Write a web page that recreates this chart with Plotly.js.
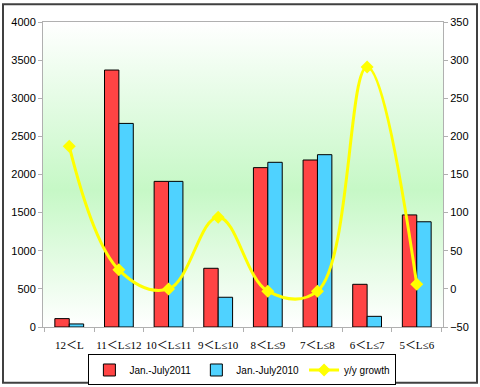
<!DOCTYPE html>
<html><head><meta charset="utf-8">
<script src="https://cdn.plot.ly/plotly-3.0.1.min.js"></script>
<style>html,body{margin:0;padding:0;background:#fff}#c{width:480px;height:387px}</style>
</head><body><div id="c"></div>
<script>
const categories = ["12＜L", "11＜L≤12", "10＜L≤11", "9＜L≤10", "8＜L≤9", "7＜L≤8", "6＜L≤7", "5＜L≤6"];
const sales2011 = [110, 3370, 1910, 770, 2090, 2190, 560, 1470];
const sales2010 = [40, 2670, 1910, 390, 2160, 2260, 140, 1380];
const growth = [187, 25, 0, 94, -3, -3, 291, 6];
const leftTicks = [0, 500, 1000, 1500, 2000, 2500, 3000, 3500, 4000];
const rightTicks = [-50, 0, 50, 100, 150, 200, 250, 300, 350];

const bgSvg = '<svg xmlns="http://www.w3.org/2000/svg" width="100" height="100" preserveAspectRatio="none"><defs><linearGradient id="g" x1="0" y1="0" x2="0" y2="1"><stop offset="0" stop-color="#ffffff"/><stop offset="0.55" stop-color="#c6f8c6"/><stop offset="1" stop-color="#ffffff"/></linearGradient></defs><rect width="100" height="100" fill="url(#g)"/></svg>';
const bgUri = 'data:image/svg+xml;base64,' + btoa(bgSvg);

const traces = [
  {type: 'bar', name: 'Jan.-July2011', x: categories, y: sales2011,
   marker: {color: '#ff4444', line: {color: '#000000', width: 1}}},
  {type: 'bar', name: 'Jan.-July2010', x: categories, y: sales2010,
   marker: {color: '#4fd2ff', line: {color: '#000000', width: 1}}},
  {type: 'scatter', mode: 'lines+markers', name: 'y/y growth', x: categories, y: growth, yaxis: 'y2',
   line: {color: '#ffff00', width: 3, shape: 'spline', smoothing: 1.1},
   marker: {symbol: 'diamond', size: 10, color: '#ffff00'}}
];

const layout = {
  width: 480, height: 387,
  margin: {l: 43, r: 37, t: 22, b: 60, autoexpand: false},
  paper_bgcolor: '#ffffff', plot_bgcolor: 'rgba(0,0,0,0)',
  font: {family: 'Arial, Liberation Sans, sans-serif', size: 11, color: '#000'},
  barmode: 'group', bargap: 0.42, bargroupgap: 0,
  showlegend: true,
  legend: {orientation: 'h', x: 0.505, xanchor: 'center', xref: 'container',
           y: 0.084, yanchor: 'top', yref: 'container',
           bordercolor: '#000000', borderwidth: 1, bgcolor: '#ffffff',
           itemwidth: 30, tracegroupgap: 0,
           font: {size: 10, family: 'Arial, Liberation Sans, sans-serif'}},
  xaxis: {type: 'category', automargin: false, showgrid: false, showline: true, linecolor: '#b0b0b0', mirror: true,
          ticks: 'outside', tickson: 'boundaries', ticklen: 4, tickcolor: '#b0b0b0', tickangle: 0,
          ticklabelstandoff: 8,
          tickfont: {family: 'Liberation Serif, Noto Sans CJK SC, serif', size: 11}},
  yaxis: {range: [0, 4000], tickvals: leftTicks, showgrid: false, zeroline: false, automargin: false,
          showline: true, linecolor: '#b0b0b0', ticks: 'outside', ticklen: 4, tickcolor: '#b0b0b0'},
  yaxis2: {overlaying: 'y', side: 'right', range: [-50, 350], tickvals: rightTicks, automargin: false,
           showgrid: false, zeroline: false, showline: true, linecolor: '#b0b0b0',
           ticks: 'outside', ticklen: 4, tickcolor: '#b0b0b0'},
  images: [{source: bgUri, xref: 'paper', yref: 'paper', x: 0, y: 1, sizex: 1, sizey: 1,
            sizing: 'stretch', layer: 'below', xanchor: 'left', yanchor: 'top'}],
  shapes: [{type: 'rect', xref: 'paper', yref: 'paper', x0: -0.1, x1: 1.085, y0: -0.183, y1: 1.058,
            line: {color: '#404040', width: 2}, fillcolor: 'rgba(0,0,0,0)'}]
};
Plotly.newPlot('c', traces, layout, {displayModeBar: false, staticPlot: true});
</script></body></html>
